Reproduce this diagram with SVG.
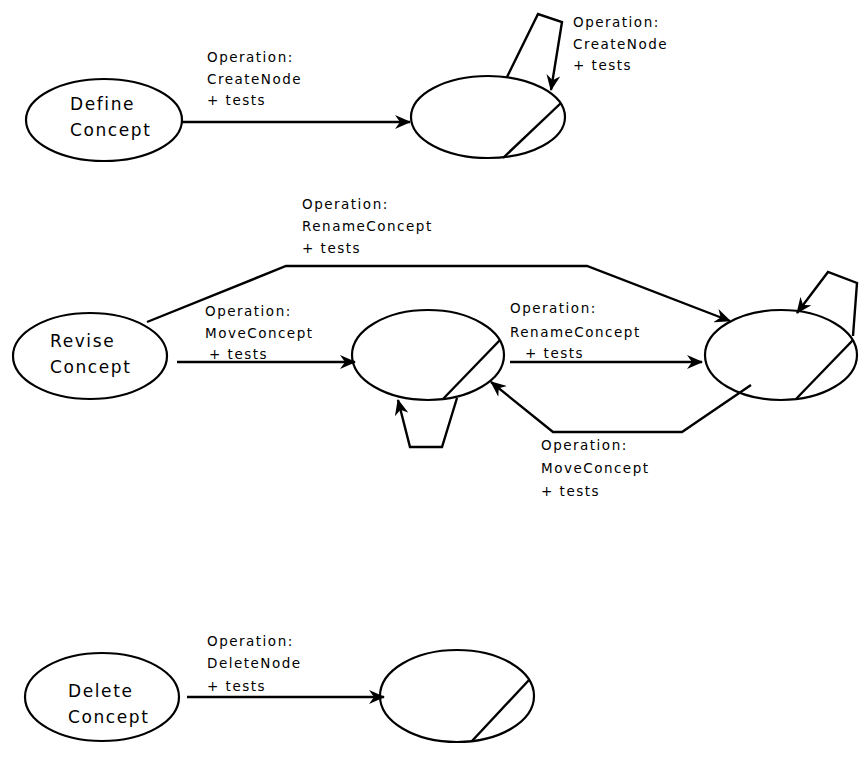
<svg xmlns="http://www.w3.org/2000/svg" width="867" height="760" viewBox="0 0 867 760">
  <style>
    .state { fill: none; stroke: #000; stroke-width: 2.2; }
    .chord { stroke: #000; stroke-width: 2.4; fill: none; }
    .edge { fill: none; stroke: #000; stroke-width: 2.4; stroke-linejoin: miter; }
    .arrow { marker-end: url(#barb); }
    .node-text { font-family: "DejaVu Sans", sans-serif; font-size: 17px; letter-spacing: 1.6px; fill: #000; }
    .label { font-family: "DejaVu Sans", sans-serif; font-size: 13.5px; letter-spacing: 1.5px; fill: #000; }
  </style>
  <defs>
    <marker id="barb" viewBox="0 0 16 14" refX="15" refY="7" markerWidth="16" markerHeight="14" markerUnits="userSpaceOnUse" orient="auto">
      <path d="M0,0 L16,7 L0,14 L5,7 Z" fill="#000"/>
    </marker>
  </defs>
  <rect width="867" height="760" fill="#fff"/>

  <!-- Row 1: Define Concept -->
  <g id="define-concept">
    <ellipse class="state" cx="104" cy="120" rx="78" ry="41"/>
    <text class="node-text" x="70" y="110">Define</text>
    <text class="node-text" x="70" y="136">Concept</text>
  </g>
  <g id="define-result">
    <ellipse class="state" cx="488" cy="117" rx="77" ry="41"/>
    <line class="chord" x1="561" y1="103" x2="503" y2="158"/>
  </g>

  <!-- Row 2: Revise Concept -->
  <g id="revise-concept">
    <ellipse class="state" cx="90" cy="356" rx="77" ry="43"/>
    <text class="node-text" x="50" y="347">Revise</text>
    <text class="node-text" x="50" y="373">Concept</text>
  </g>
  <g id="revise-moved">
    <ellipse class="state" cx="428" cy="355" rx="76" ry="45"/>
    <line class="chord" x1="500" y1="340" x2="443" y2="399"/>
  </g>
  <g id="revise-renamed">
    <ellipse class="state" cx="781" cy="355" rx="76" ry="45"/>
    <line class="chord" x1="853" y1="340" x2="796" y2="399"/>
  </g>

  <!-- Row 3: Delete Concept -->
  <g id="delete-concept">
    <ellipse class="state" cx="102" cy="697" rx="77" ry="44"/>
    <text class="node-text" x="68" y="697">Delete</text>
    <text class="node-text" x="68" y="723">Concept</text>
  </g>
  <g id="delete-result">
    <ellipse class="state" cx="457" cy="696" rx="77" ry="46"/>
    <line class="chord" x1="529" y1="680" x2="472" y2="741"/>
  </g>

  <!-- Connectors -->
  <g id="connectors">
    <polyline class="edge arrow" points="182,122 410,122"/>
    <polyline class="edge arrow" points="507,77 538,14 562,22 551,90"/>

    <polyline class="edge arrow" points="147,322 286,266 587,266 730,321"/>
    <polyline class="edge arrow" points="177,362 355,362"/>
    <polyline class="edge arrow" points="510,362 702,362"/>
    <polyline class="edge arrow" points="751,385 682,432 553,432 491,382"/>
    <polyline class="edge arrow" points="457,398 442,447 410,447 398,400"/>
    <polyline class="edge arrow" points="853,336 857,283 828,272 797,313"/>

    <polyline class="edge arrow" points="187,697 384,697"/>
  </g>

  <!-- Connector labels -->
  <g id="labels">
    <text class="label" x="207" y="62">Operation:</text>
    <text class="label" x="207" y="84">CreateNode</text>
    <text class="label" x="207" y="105">+ tests</text>

    <text class="label" x="573" y="27">Operation:</text>
    <text class="label" x="573" y="49">CreateNode</text>
    <text class="label" x="573" y="70">+ tests</text>

    <text class="label" x="302" y="209">Operation:</text>
    <text class="label" x="302" y="231">RenameConcept</text>
    <text class="label" x="302" y="253">+ tests</text>

    <text class="label" x="205" y="316">Operation:</text>
    <text class="label" x="205" y="338">MoveConcept</text>
    <text class="label" x="209" y="359">+ tests</text>

    <text class="label" x="510" y="313">Operation:</text>
    <text class="label" x="510" y="337">RenameConcept</text>
    <text class="label" x="525" y="358">+ tests</text>

    <text class="label" x="541" y="450">Operation:</text>
    <text class="label" x="541" y="473">MoveConcept</text>
    <text class="label" x="541" y="496">+ tests</text>

    <text class="label" x="207" y="646">Operation:</text>
    <text class="label" x="207" y="668">DeleteNode</text>
    <text class="label" x="207" y="691">+ tests</text>
  </g>
</svg>
